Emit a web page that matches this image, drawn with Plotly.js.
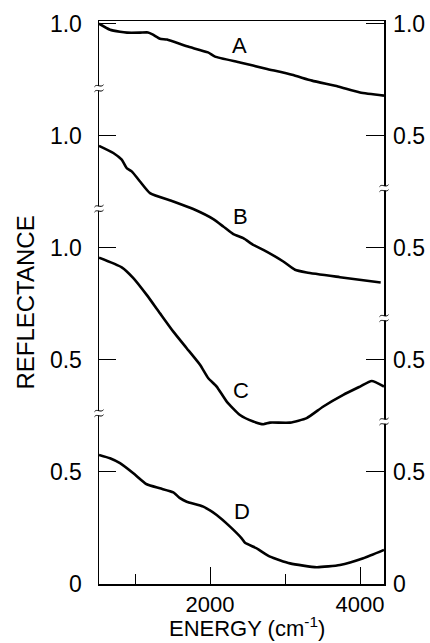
<!DOCTYPE html>
<html>
<head>
<meta charset="utf-8">
<script src="https://cdn.plot.ly/plotly-3.0.1.min.js"></script>
<style>html,body{margin:0;padding:0;background:#fff;}#chart{width:430px;height:643px;}</style>
</head>
<body>
<div id="chart"></div>
<script>
// Energy (cm^-1) and reflectance values
const energyA = [520, 667, 800, 893, 1067, 1173, 1240, 1333, 1427, 1693, 1973, 2067, 2400, 2747, 3093, 3360, 3707, 4000, 4320];
const reflA   = [1.0, 0.973, 0.964, 0.960, 0.960, 0.961, 0.951, 0.933, 0.929, 0.899, 0.872, 0.853, 0.827, 0.799, 0.772, 0.746, 0.720, 0.693, 0.679];

const energyB = [520, 711, 823, 889, 956, 1067, 1200, 1511, 1777, 2044, 2177, 2311, 2444, 2577, 2711, 2977, 3133, 3289, 3733, 4276];
const reflB   = [0.955, 0.923, 0.893, 0.856, 0.841, 0.796, 0.744, 0.707, 0.673, 0.628, 0.595, 0.561, 0.543, 0.513, 0.491, 0.439, 0.402, 0.390, 0.369, 0.345];

const energyC = [520, 823, 978, 1156, 1333, 1511, 1689, 1867, 1977, 2089, 2223, 2400, 2577, 2711, 2800, 3067, 3289, 3511, 3777, 4000, 4156, 4320];
const reflC   = [0.956, 0.913, 0.865, 0.790, 0.708, 0.626, 0.552, 0.478, 0.418, 0.381, 0.314, 0.254, 0.225, 0.213, 0.220, 0.220, 0.240, 0.292, 0.344, 0.381, 0.406, 0.381];

const energyD = [520, 667, 800, 978, 1156, 1333, 1511, 1600, 1689, 1911, 2089, 2267, 2422, 2467, 2622, 2800, 3067, 3422, 3733, 4044, 4320];
const reflD   = [0.576, 0.561, 0.539, 0.494, 0.445, 0.427, 0.409, 0.383, 0.367, 0.345, 0.308, 0.256, 0.204, 0.184, 0.159, 0.122, 0.092, 0.075, 0.085, 0.115, 0.152];

// Vertical offsets of the stacked curves
const offsetA = 1.5, offsetB = 1.0, offsetC = 0.5, offsetD = 0.0;

const curveNames = ['A', 'B', 'C', 'D'];
const labelEnergy = [2390, 2410, 2415, 2420];
const labelLevel  = [2.403, 1.640, 0.864, 0.323];

const leftTickVals  = [0, 0.5, 1.0, 1.5, 2.0, 2.5];
const leftTickText  = ['0', '0.5', '0.5', '1.0', '1.0', '1.0'];
const rightTickText = ['0', '0.5', '0.5', '0.5', '0.5', '1.0'];

const leftBreaks  = [2.212, 1.675, 0.762];
const rightBreaks = [1.766, 1.186, 0.725];

const FONT = '"Liberation Sans", Arial, Helvetica, sans-serif';

function shift(arr, off) { return arr.map(v => v + off); }
const lineStyle = {color: '#000', width: 2.6, shape: 'spline', smoothing: 0.5};

const traces = [
  {x: energyA, y: shift(reflA, offsetA), mode: 'lines', line: lineStyle, yaxis: 'y2', hoverinfo: 'skip'},
  {x: energyB, y: shift(reflB, offsetB), mode: 'lines', line: lineStyle, hoverinfo: 'skip'},
  {x: energyC, y: shift(reflC, offsetC), mode: 'lines', line: lineStyle, hoverinfo: 'skip'},
  {x: energyD, y: shift(reflD, offsetD), mode: 'lines', line: lineStyle, hoverinfo: 'skip'}
];

const shapes = [];
function addBreak(xpaper, yval) {
  shapes.push({type: 'rect', xref: 'paper', yref: 'y', xsizemode: 'pixel', ysizemode: 'pixel',
    xanchor: xpaper, yanchor: yval, x0: -3, x1: 3, y0: -2.2, y1: 2.2,
    fillcolor: '#fff', line: {width: 0}, layer: 'above'});
  shapes.push({type: 'path', xref: 'paper', yref: 'y', xsizemode: 'pixel', ysizemode: 'pixel',
    xanchor: xpaper, yanchor: yval, path: 'M-4.5,1.5 C-2,5 1.5,0 4.5,3.5',
    line: {color: '#000', width: 1}, layer: 'above'});
  shapes.push({type: 'path', xref: 'paper', yref: 'y', xsizemode: 'pixel', ysizemode: 'pixel',
    xanchor: xpaper, yanchor: yval, path: 'M-4.5,-3.5 C-2,0 1.5,-5 4.5,-1.5',
    line: {color: '#000', width: 1}, layer: 'above'});
}
leftBreaks.forEach(b => addBreak(0, b));
rightBreaks.forEach(b => addBreak(1, b));

const annotations = curveNames.map((n, i) => ({
  x: labelEnergy[i], y: labelLevel[i], xref: 'x', yref: 'y', text: n, showarrow: false,
  font: {family: FONT, size: 22, color: '#000'}
}));
annotations.push({
  xref: 'paper', yref: 'paper', x: 0.52, y: 0, yshift: -58, xanchor: 'center', yanchor: 'bottom',
  text: 'ENERGY (cm<sup>-1</sup>)', showarrow: false, borderpad: 0,
  font: {family: FONT, size: 22, color: '#000'}
});

const yRange = [0, 2.512];

const layout = {
  width: 430, height: 643,
  margin: {l: 99, r: 46, t: 21, b: 59},
  paper_bgcolor: '#fff', plot_bgcolor: '#fff',
  showlegend: false,
  font: {family: FONT, color: '#000'},
  xaxis: {
    range: [520, 4320], showgrid: false, zeroline: false,
    showline: true, linecolor: '#000', linewidth: 1.5, mirror: true,
    ticks: 'inside', tickmode: 'linear', tick0: 0, dtick: 2000, ticklen: 17, tickwidth: 1, tickcolor: '#000',
    minor: {ticks: 'inside', dtick: 1000, tick0: 0, ticklen: 10, tickwidth: 1, tickcolor: '#000'},
    tickfont: {family: FONT, size: 22, color: '#000'},
    ticklabelstandoff: 0
  },
  yaxis: {
    range: yRange, showgrid: false, zeroline: false,
    showline: true, linecolor: '#000', linewidth: 1.5,
    ticks: 'inside', ticklen: 17, tickwidth: 1, tickcolor: '#000',
    tickmode: 'array', tickvals: leftTickVals, ticktext: leftTickText,
    tickfont: {family: FONT, size: 23, color: '#000'},
    ticklabelstandoff: 11,
    title: {text: 'REFLECTANCE', font: {family: FONT, size: 24, color: '#000'}, standoff: 8}
  },
  yaxis2: {
    range: yRange, overlaying: 'y', side: 'right', showgrid: false, zeroline: false,
    showline: true, linecolor: '#000', linewidth: 1.5,
    ticks: 'inside', ticklen: 18, tickwidth: 1, tickcolor: '#000',
    tickmode: 'array', tickvals: leftTickVals, ticktext: rightTickText,
    tickfont: {family: FONT, size: 23, color: '#000'},
    ticklabelstandoff: 3
  },
  shapes: shapes,
  annotations: annotations
};

Plotly.newPlot('chart', traces, layout, {staticPlot: true, displayModeBar: false});
</script>
</body>
</html>
